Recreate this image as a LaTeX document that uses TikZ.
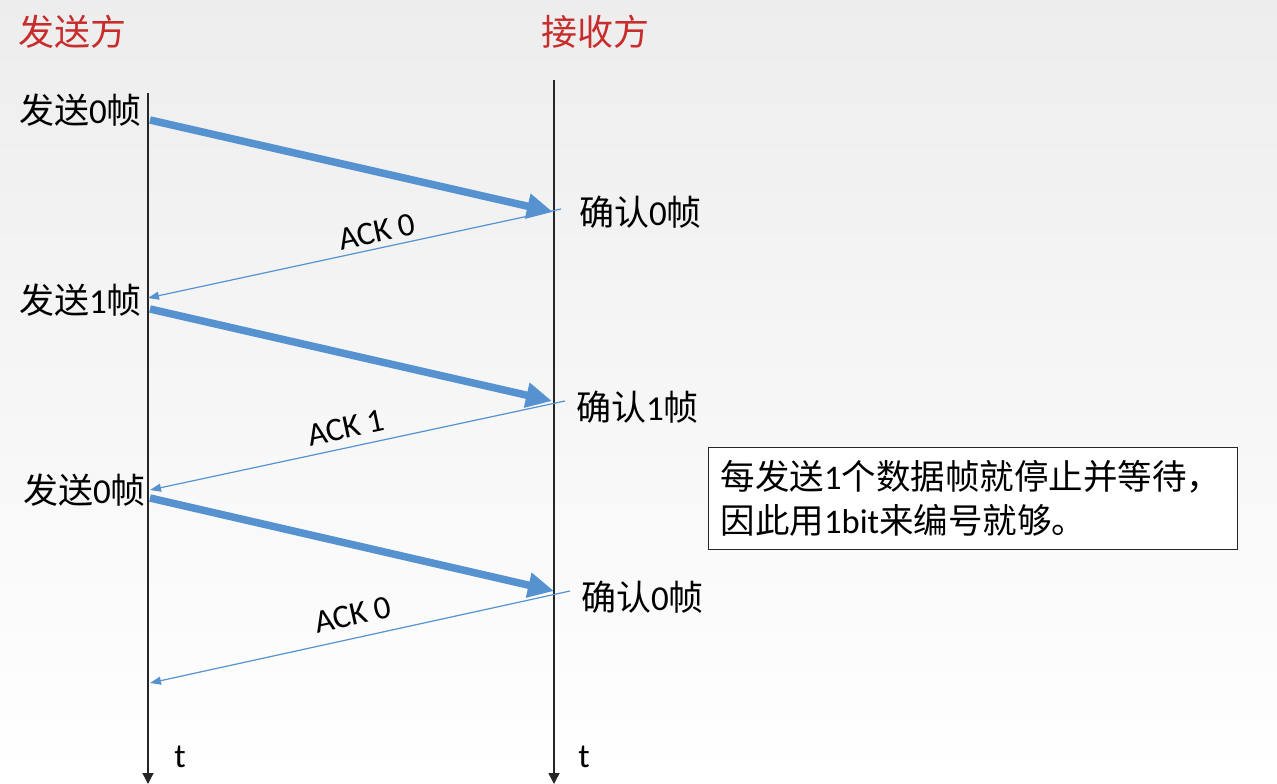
\documentclass[tikz,border=0pt]{standalone}
\usepackage{fontspec}
\setmainfont{Carlito}
\newfontfamily\cjk{Noto Sans CJK SC}
\usetikzlibrary{arrows.meta}
\definecolor{ablue}{RGB}{86,146,208}
\definecolor{hred}{RGB}{200,45,45}
\begin{document}
\begin{tikzpicture}[x=1pt,y=-1pt,
  timeline/.style={draw=black!85, line width=1.4pt, -{Triangle[length=11pt,width=11pt]}},
  dataarrow/.style={draw=ablue, line width=7.5pt, -{Triangle[length=26pt,width=24pt]}},
  ackarrow/.style={draw=ablue, line width=1.2pt, -{Triangle[length=11pt,width=8pt]}},
  lbl/.style={inner sep=0pt, font=\fontsize{35}{40}\selectfont},
  hdr/.style={inner sep=0pt, text=hred, font=\fontsize{36}{40}\selectfont\cjk},
  acklbl/.style={inner sep=0pt, font=\fontsize{33}{36}\selectfont},
  tlbl/.style={inner sep=0pt, font=\fontsize{34}{36}\selectfont},
  notebox/.style={draw=black!85, line width=1.3pt, fill=white, anchor=north west,
    text width=505pt, minimum height=102pt, inner xsep=12pt, inner ysep=0pt,
    align=left, font=\fontsize{34.5}{44}\selectfont}
]
\shade[top color=black!7, bottom color=white] (0,0) rectangle (1277,784);
\useasboundingbox (0,0) rectangle (1277,784);

% headers
\node[hdr] (hs) at (73,32) {发送方};
\node[hdr] (hr) at (595,32) {接收方};

% timelines
\coordinate (Ltop) at (148,93);
\coordinate (Lbot) at (148,784);
\coordinate (Rtop) at (554,80);
\coordinate (Rbot) at (554,784);
\draw[timeline] (Ltop) -- (Lbot);
\draw[timeline] (Rtop) -- (Rbot);
\node[tlbl] (tl) at (180,757) {t};
\node[tlbl] (tr) at (584,757) {t};

% side labels
\node[lbl, anchor=east] (s1) at (142,110) {{\cjk 发送}0{\cjk 帧}};
\node[lbl, anchor=east] (s2) at (142,300) {{\cjk 发送}1{\cjk 帧}};
\node[lbl, anchor=east] (s3) at (146,490) {{\cjk 发送}0{\cjk 帧}};
\node[lbl, anchor=west] (c1) at (579,212) {{\cjk 确认}0{\cjk 帧}};
\node[lbl, anchor=west] (c2) at (576,407) {{\cjk 确认}1{\cjk 帧}};
\node[lbl, anchor=west] (c3) at (581,597) {{\cjk 确认}0{\cjk 帧}};

% data frames
\coordinate (d1a) at (150,120);  \coordinate (d1b) at (553,212);
\coordinate (d2a) at (150,309);  \coordinate (d2b) at (552,401);
\coordinate (d3a) at (150,498);  \coordinate (d3b) at (554,591);
\draw[dataarrow] (d1a) -- (d1b);
\draw[dataarrow] (d2a) -- (d2b);
\draw[dataarrow] (d3a) -- (d3b);

% acks
\coordinate (a1a) at (561,209);  \coordinate (a1b) at (148,298);
\coordinate (a2a) at (565,401);  \coordinate (a2b) at (150,490);
\coordinate (a3a) at (570,591);  \coordinate (a3b) at (150,683);
\draw[ackarrow] (a1a) -- (a1b);
\draw[ackarrow] (a2a) -- (a2b);
\draw[ackarrow] (a3a) -- (a3b);
\node[acklbl, rotate=12] (k1) at (377,232) {ACK 0};
\node[acklbl, rotate=12] (k2) at (346,428) {ACK 1};
\node[acklbl, rotate=12.3] (k3) at (353,615) {ACK 0};

% note
\node[notebox] (note) at (708,447) {{\cjk 每发送}1{\cjk 个数据帧就停止并等待，}\\{\cjk 因此用}1bit{\cjk 来编号就够。}};
\end{tikzpicture}
\end{document}
